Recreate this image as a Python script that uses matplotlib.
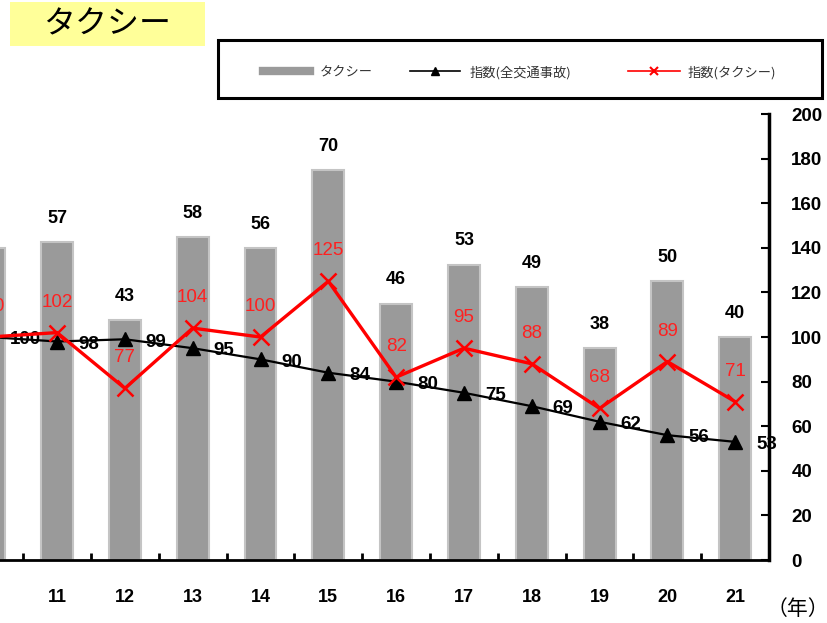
import matplotlib.pyplot as plt
import numpy as np
from matplotlib.lines import Line2D
from matplotlib.patches import Rectangle

plt.rcParams['font.family'] = ['Noto Sans CJK JP', 'DejaVu Sans']

years = ["10", "11", "12", "13", "14", "15", "16", "17", "18", "19", "20", "21"]
taxi_accidents = [56, 57, 43, 58, 56, 70, 46, 53, 49, 38, 50, 40]
index_all = [100, 98, 99, 95, 90, 84, 80, 75, 69, 62, 56, 53]
index_taxi = [100, 102, 77, 104, 100, 125, 82, 95, 88, 68, 89, 71]
right_ticks = [0, 20, 40, 60, 80, 100, 120, 140, 160, 180, 200]
legend_labels = ["タクシー", "指数(全交通事故)", "指数(タクシー)"]

num_font = 'Liberation Sans'
W, H = 827, 623


def px(x0, y0):
    # pixel position (from top-left) -> figure fraction
    return x0 / W, 1 - y0 / H


def style_axes(ax, ax2, n):
    ax.set_xlim(-0.5, n - 0.5)
    ax.set_ylim(0, 80)
    ax.set_yticks([])
    for s in ["top", "left", "right"]:
        ax.spines[s].set_visible(False)
    ax.spines["bottom"].set_linewidth(2)
    ax.set_xticks(np.arange(n))
    ax.set_xticklabels(years, fontfamily=num_font, fontweight='bold', fontsize=13)
    ax.tick_params(axis='x', which='major', length=0, pad=21)
    ax.set_xticks(np.arange(n) + 0.5, minor=True)
    ax.tick_params(axis='x', which='minor', direction='in', length=5, width=2)

    ax2.set_ylim(0, 200)
    ax2.set_yticks(right_ticks)
    ax2.set_yticklabels([str(t) for t in right_ticks], fontfamily=num_font,
                        fontweight='bold', fontsize=13.5)
    ax2.tick_params(axis='y', direction='in', length=6, width=1.5, pad=16)
    for s in ["top", "left", "bottom"]:
        ax2.spines[s].set_visible(False)
    ax2.spines["right"].set_linewidth(2.5)


fig = plt.figure(figsize=(8.27, 6.23), dpi=100)
ax = fig.add_axes([-0.054, 0.101, 0.984, 0.716])
ax2 = ax.twinx()
x = np.arange(len(years))

ax.bar(x, taxi_accidents, width=0.47, color='#9a9a9a', edgecolor='#c4c4c4', linewidth=1.5)
for xi, v in zip(x, taxi_accidents):
    ax.annotate(str(v), (xi, v), xytext=(0, 17), textcoords='offset points',
                ha='center', va='center', fontfamily=num_font, fontweight='bold',
                fontsize=13, color='black', annotation_clip=False)

ax2.plot(x, index_all, color='black', lw=1.6, marker='^', markersize=10,
         zorder=3, clip_on=False)
ax2.plot(x, index_taxi, color='#ff0000', lw=2.4, marker='x', markersize=11,
         mew=1.8, zorder=4, clip_on=False)

for xi, v in zip(x, index_all):
    ax2.annotate(str(v), (xi, v), xytext=(15, -2), textcoords='offset points',
                 ha='left', va='center', fontfamily=num_font, fontweight='bold',
                 fontsize=13.5, color='black', annotation_clip=False)
for xi, v in zip(x, index_taxi):
    ax2.annotate(str(v), (xi, v), xytext=(0, 22), textcoords='offset points',
                 ha='center', va='center', fontfamily=num_font,
                 fontsize=13.5, color='#ff2020', annotation_clip=False)

style_axes(ax, ax2, len(years))

# title box
x0, y0 = px(10, 46)
fig.patches.append(Rectangle((x0, y0), 195 / W, 44 / H, transform=fig.transFigure,
                             facecolor='#ffff99', edgecolor='none'))
fig.text(*px(107, 24), "タクシー", ha='center', va='center', fontsize=23)

# legend box
x0, y0 = px(218, 98)
fig.patches.append(Rectangle((x0, y0), 604 / W, 58 / H, transform=fig.transFigure,
                             facecolor='white', edgecolor='black', linewidth=2.2))
ly = 71
fig.add_artist(Line2D([263 / W, 310 / W], [1 - ly / H] * 2, color='#9a9a9a', lw=6))
fig.add_artist(Line2D([410 / W, 460 / W], [1 - ly / H] * 2, color='black', lw=1.2))
fig.add_artist(Line2D([435 / W], [1 - ly / H], color='black', marker='^',
                      markersize=6, linestyle='none'))
fig.add_artist(Line2D([628 / W, 680 / W], [1 - ly / H] * 2, color='#ff0000', lw=1.2))
fig.add_artist(Line2D([654 / W], [1 - ly / H], color='#ff0000', marker='x',
                      markersize=6, mew=1.5, linestyle='none'))
for lx, lab in zip([320, 470, 688], legend_labels):
    fig.text(*px(lx, ly + 2), lab, ha='left', va='center', fontsize=9.5, color='#333333')

fig.text(*px(798, 609), "（年）", ha='center', va='center', fontsize=15)

fig.savefig("out.png", dpi=100)
